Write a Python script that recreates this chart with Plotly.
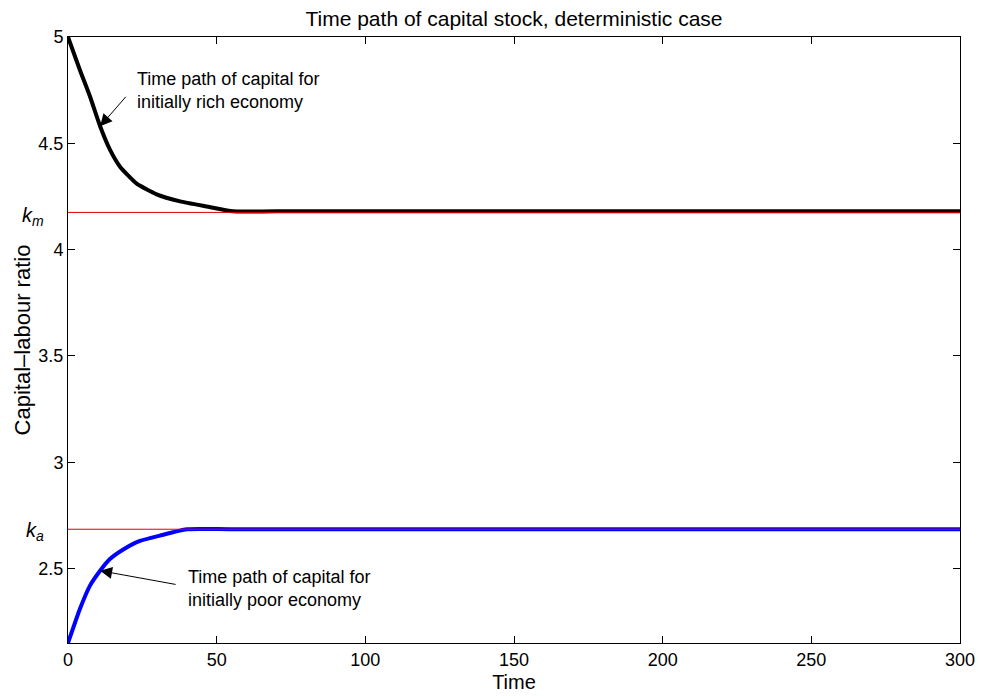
import plotly.graph_objects as go

# Data
t_rich = [0, 4, 7.4, 10.8, 14.1, 17.5, 23.1, 29.8, 37.7, 46.6, 55.5, 70, 300]
k_rich = [5.0, 4.845, 4.72, 4.58, 4.47, 4.39, 4.31, 4.26, 4.227, 4.203, 4.18, 4.18, 4.18]
t_poor = [0, 4, 7.4, 10.8, 14.1, 18.6, 24.2, 30.9, 39.9, 55, 300]
k_poor = [2.15, 2.31, 2.42, 2.49, 2.545, 2.59, 2.63, 2.655, 2.685, 2.685, 2.685]
k_m = 4.175
k_a = 2.685
t_span = [0, 300]
x_ticks = [0, 50, 100, 150, 200, 250, 300]
y_ticks = [2.5, 3, 3.5, 4, 4.5, 5]

FONT = "Arial, Liberation Sans, sans-serif"

fig = go.Figure()
fig.add_trace(go.Scatter(x=t_rich, y=k_rich, mode="lines", line_shape="spline",
                         line=dict(color="black", width=4, smoothing=0.5), showlegend=False))
fig.add_trace(go.Scatter(x=t_poor, y=k_poor, mode="lines", line_shape="spline",
                         line=dict(color="#0000ff", width=4, smoothing=0.5), showlegend=False))
fig.add_trace(go.Scatter(x=t_span, y=[k_m, k_m], mode="lines",
                         line=dict(color="#dd0000", width=1), showlegend=False))
fig.add_trace(go.Scatter(x=t_span, y=[k_a, k_a], mode="lines",
                         line=dict(color="#dd0000", width=1), showlegend=False))

axis_common = dict(showgrid=False, zeroline=False, showline=True, linecolor="black",
                   linewidth=1, mirror="ticks", ticks="inside", ticklen=7,
                   tickcolor="black", tickfont=dict(family=FONT, size=18, color="black"))

fig.update_layout(
    width=987, height=696,
    margin=dict(l=60, r=35, t=29, b=61),
    paper_bgcolor="white", plot_bgcolor="white",
    font=dict(family=FONT, color="black"),
    title=dict(text="Time path of capital stock, deterministic case",
               x=0.5, xref="paper", xanchor="center", y=0.995, yref="container",
               yanchor="top", font=dict(family=FONT, size=21, color="black")),
    xaxis=dict(range=[0, 300], tickvals=x_ticks,
               title=dict(text="Time", font=dict(family=FONT, size=20), standoff=6),
               **axis_common),
    yaxis=dict(range=[2.15, 5], tickvals=y_ticks, ticktext=[str(v) for v in y_ticks],
               title=dict(text="Capital\u2013labour ratio", font=dict(family=FONT, size=22),
                          standoff=1),
               **axis_common),
)

# k labels
fig.add_annotation(x=-0.054, xref="paper", y=k_m, yref="y", xanchor="left",
                   yanchor="middle", yshift=-4, showarrow=False,
                   text="<i>k</i><sub><i>m</i></sub>",
                   font=dict(family=FONT, size=20, color="black"))
fig.add_annotation(x=-0.049, xref="paper", y=k_a, yref="y", xanchor="left",
                   yanchor="middle", yshift=-2, showarrow=False,
                   text="<i>k</i><sub><i>a</i></sub>",
                   font=dict(family=FONT, size=20, color="black"))

# text annotations
fig.add_annotation(x=22.5, y=4.747, xanchor="left", yanchor="middle", showarrow=False,
                   align="left",
                   text="Time path of capital for<br>initially rich economy",
                   font=dict(family=FONT, size=18, color="black"))
fig.add_annotation(x=39.7, y=2.404, xanchor="left", yanchor="middle", showarrow=False,
                   align="left",
                   text="Time path of capital for<br>initially poor economy",
                   font=dict(family=FONT, size=18, color="black"))
# arrows
fig.add_annotation(x=10.8, y=4.58, text="", showarrow=True, ax=27, ay=-31,
                   arrowhead=2, arrowsize=2.4, arrowwidth=1, arrowcolor="black")
fig.add_annotation(x=10.8, y=2.49, text="", showarrow=True, ax=77, ay=14,
                   arrowhead=2, arrowsize=2.4, arrowwidth=1, arrowcolor="black")

fig.write_html("out.html")
